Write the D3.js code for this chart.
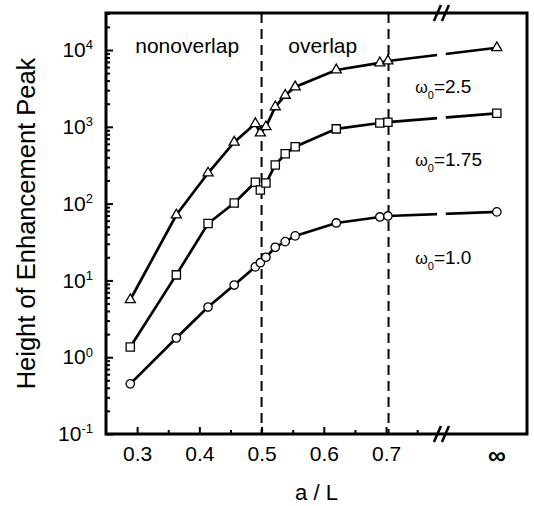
<!DOCTYPE html>
<html lang="en">
<head>
    <meta charset="UTF-8">
    <title>Height of Enhancement Peak</title>
    <script src="https://d3js.org/d3.v7.min.js"></script>
    <style>
        body { margin: 0; background: #fff; }
        svg { font-family: "Liberation Sans", Arial, Helvetica, sans-serif; }
        .series { fill: none; stroke: #000; stroke-width: 2.7; }
        .marker { fill: #fff; stroke: #000; stroke-width: 1.3; }
        .tick line { stroke: #000; stroke-width: 2; }
    </style>
</head>
<body>
    <div id="chart"></div>
    <script type="text/javascript">
        // values, last point is a/L -> infinity
        const aOverL = [0.289, 0.363, 0.414, 0.456, 0.490, 0.498, 0.507, 0.522, 0.538, 0.554, 0.620, 0.690, 0.703, "inf"];
        const peakW25 = [5.6, 71, 250, 630, 1100, 830, 1000, 1820, 2570, 3300, 5500, 6800, 7200, 10700];
        const peakW175 = [1.36, 11.8, 55, 102, 190, 150, 185, 318, 445, 550, 940, 1120, 1150, 1500];
        const peakW10 = [0.45, 1.78, 4.5, 8.7, 15, 17, 20, 27, 32, 38, 56, 67, 69, 78];

        const xTicks = [0.3, 0.4, 0.5, 0.6, 0.7];
        const xMinorTicks = [0.35, 0.45, 0.55, 0.65, 0.75];
        const yExponents = [-1, 0, 1, 2, 3, 4];
        const regionBounds = [0.5, 0.704];
        const infLabel = "\u221E";

        const margin = {top: 13, right: 7, bottom: 72, left: 106},
            width = 534 - margin.left - margin.right,
            height = 506 - margin.top - margin.bottom;

        const infPos = 0.878;          // where the infinity column sits
        const breakAt = [0.782, 0.796]; // axis break
        const x = d3.scaleLinear().domain([0.25, 0.9265]).range([0, width]);
        const y = d3.scaleLog().domain([0.1, 30340]).range([height, 0]);
        const xPos = function(a) { return a === "inf" ? x(infPos) : x(a); };

        const svg = d3.select("#chart").append("svg")
            .attr("width", width + margin.left + margin.right)
            .attr("height", height + margin.top + margin.bottom)
            .append("g")
            .attr("transform", "translate(" + margin.left + "," + margin.top + ")");

        // clip to leave a gap at the axis break
        const clip = svg.append("clipPath").attr("id", "brk");
        clip.append("rect").attr("x", 0).attr("y", -10)
            .attr("width", x(breakAt[0])).attr("height", height + 20);
        clip.append("rect").attr("x", x(breakAt[1])).attr("y", -10)
            .attr("width", width - x(breakAt[1])).attr("height", height + 20);

        // region separators
        svg.selectAll(".bound")
            .data(regionBounds)
            .enter().append("line")
            .attr("class", "bound")
            .attr("x1", d => x(d)).attr("x2", d => x(d))
            .attr("y1", 0).attr("y2", height)
            .attr("stroke", "#000").attr("stroke-width", 2)
            .attr("stroke-dasharray", "10,6");

        // axes: ticks point inward
        const fontTick = 21;
        svg.append("g")
            .attr("transform", "translate(0," + height + ")")
            .call(d3.axisBottom(x).tickValues(xTicks).tickSize(-7).tickPadding(12)
                .tickFormat(d3.format(".1f")))
            .call(g => g.select(".domain").remove())
            .call(g => g.selectAll("text").attr("font-size", fontTick).attr("fill", "#000"));
        svg.append("g")
            .attr("transform", "translate(0," + height + ")")
            .call(d3.axisBottom(x).tickValues(xMinorTicks).tickSize(-4).tickFormat(""))
            .call(g => g.select(".domain").remove());
        svg.append("text")
            .attr("x", x(infPos)).attr("y", height + 12).attr("dy", "0.71em")
            .attr("text-anchor", "middle").attr("font-size", 25).attr("font-weight", "bold")
            .text(infLabel);

        const yMinor = [];
        yExponents.forEach(function(e) {
            for (let m = 2; m <= 9; m++) {
                const v = m * Math.pow(10, e);
                if (v <= y.domain()[1]) yMinor.push(v);
            }
        });
        svg.append("g")
            .call(d3.axisLeft(y).tickValues(yMinor).tickSize(-4).tickFormat(""))
            .call(g => g.select(".domain").remove());
        svg.append("g")
            .call(d3.axisLeft(y).tickValues(yExponents.map(e => Math.pow(10, e)))
                .tickSize(-7).tickPadding(13).tickFormat(""))
            .call(g => g.select(".domain").remove())
            .call(g => g.selectAll(".tick text")
                .attr("font-size", fontTick).attr("fill", "#000")
                .each(function(d) {
                    const t = d3.select(this);
                    t.text("10");
                    t.append("tspan").attr("dy", "-0.6em").attr("font-size", 13)
                        .text(Math.round(Math.log10(d)));
                }));

        // frame
        svg.append("rect")
            .attr("width", width).attr("height", height)
            .attr("fill", "none").attr("stroke", "#000").attr("stroke-width", 3);

        // break marks
        [0, height].forEach(function(yy) {
            [-4, 4].forEach(function(off) {
                const cx = x((breakAt[0] + breakAt[1]) / 2) + off;
                svg.append("line")
                    .attr("x1", cx - 3.5).attr("y1", yy + 8)
                    .attr("x2", cx + 3.5).attr("y2", yy - 8)
                    .attr("stroke", "#000").attr("stroke-width", 2.5);
            });
        });

        // series
        const series = [
            {name: "w25", values: peakW25, symbol: d3.symbolTriangle, size: 44},
            {name: "w175", values: peakW175, symbol: d3.symbolSquare, size: 68},
            {name: "w10", values: peakW10, symbol: d3.symbolCircle, size: 56}
        ];
        const line = d3.line()
            .x(function(d) { return xPos(d.a); })
            .y(function(d) { return y(d.v); });

        series.forEach(function(s) {
            const pts = aOverL.map((a, i) => ({a: a, v: s.values[i]}));
            svg.append("path")
                .datum(pts)
                .attr("class", "series")
                .attr("clip-path", "url(#brk)")
                .attr("d", line);
            svg.selectAll(".m-" + s.name)
                .data(pts)
                .enter().append("path")
                .attr("class", "marker m-" + s.name)
                .attr("transform", d => "translate(" + xPos(d.a) + "," + y(d.v) + ")")
                .attr("d", d3.symbol().type(s.symbol).size(s.size));
        });

        // annotations
        const fontLabel = 21;
        svg.append("text").attr("x", x(0.297)).attr("y", y(9100))
            .attr("font-size", fontLabel).text("nonoverlap");
        svg.append("text").attr("x", x(0.543)).attr("y", y(9100))
            .attr("font-size", fontLabel).text("overlap");

        const omegaLabels = [
            {text: "2.5", at: 2750},
            {text: "1.75", at: 309},
            {text: "1.0", at: 16.4}
        ];
        omegaLabels.forEach(function(o) {
            const t = svg.append("text")
                .attr("x", x(0.747)).attr("y", y(o.at))
                .attr("font-size", 19);
            t.append("tspan").attr("font-size", 16).text("\u03C9");
            t.append("tspan").attr("font-size", 11).attr("dy", 6).text("0");
            t.append("tspan").attr("dy", -6).text("=" + o.text);
        });

        // axis titles
        svg.append("text")
            .attr("x", width / 2).attr("y", height + 66)
            .attr("text-anchor", "middle").attr("font-size", 22)
            .text("a / L");
        svg.append("text")
            .attr("transform", "translate(" + (-71) + "," + (height / 2) + ") rotate(-90)")
            .attr("text-anchor", "middle").attr("font-size", 25.5)
            .text("Height of Enhancement Peak");
    </script>
</body>
</html>
